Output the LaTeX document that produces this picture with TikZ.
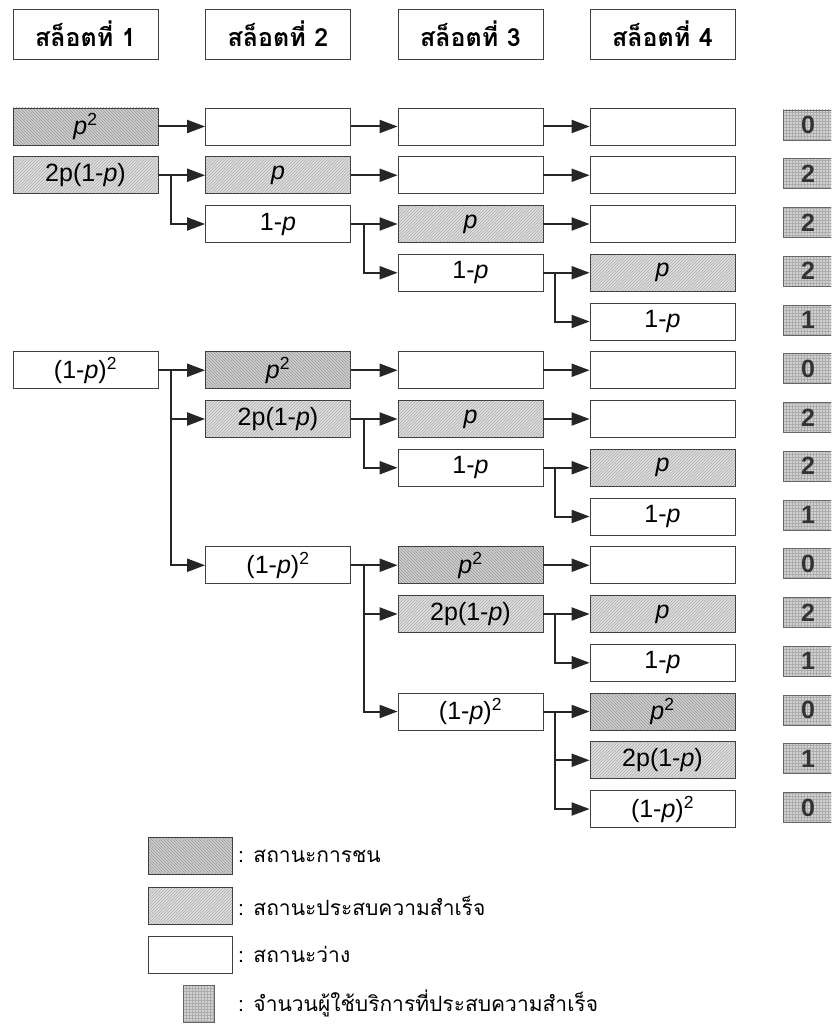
\documentclass[tikz,border=0pt]{standalone}
\usepackage{fontspec}
\setmainfont{Liberation Sans}
\newfontfamily\thai[Script=Thai]{Loma}
\usetikzlibrary{arrows.meta,patterns}
\begin{document}
\begin{tikzpicture}[x=1pt,y=-1pt,
  box/.style={rectangle,draw=black!75,line width=0.8pt,minimum width=145pt,minimum height=37pt,inner sep=0pt,font=\fontsize{25}{28}\selectfont},
  coll/.style={box,preaction={fill=gray!38},pattern=north west lines,pattern color=gray!80},
  succ/.style={box,preaction={fill=gray!25},pattern=north east lines,pattern color=gray!65},
  head/.style={rectangle,draw=black!75,line width=0.8pt,minimum width=145pt,minimum height=50pt,inner sep=0pt,font=\thai\bfseries\fontsize{25}{30}\selectfont},
  numbox/.style={rectangle,draw=black!60,line width=0.8pt,minimum width=50pt,minimum height=30pt,inner sep=0pt,preaction={fill=gray!35},pattern=grid,pattern color=gray!65,font=\bfseries\fontsize{25}{28}\selectfont,text=black!80},
  arr/.style={line width=2pt,draw=black!85,-{Triangle[length=18pt,width=13pt]}},
  legtxt/.style={anchor=west,inner sep=0pt,font=\thai\fontsize{21}{24}\selectfont}]
\useasboundingbox (0,0) rectangle (831,1024);
\clip (0,0) rectangle (831,1024);
\fill[white] (0,0) rectangle (831,1024);
% headers
\node[head] (h1) at (85.5,34) {สล็อตที่ 1};
\node[head] (h2) at (278,34) {สล็อตที่ 2};
\node[head] (h3) at (470.5,34) {สล็อตที่ 3};
\node[head] (h4) at (662.5,34) {สล็อตที่ 4};
% column 1
\node[coll] (a1r1) at (85.5,126.5) {\textit{p}\textsuperscript{2}};
\node[succ] (a1r2) at (85.5,175.25) {2p(1-\textit{p})};
\node[box]  (a1r6) at (85.5,370.25) {(1-\textit{p})\textsuperscript{2}};
% column 2
\node[box]  (a2r1) at (278,126.5) {};
\node[succ] (a2r2) at (278,175.25) {\textit{p}};
\node[box]  (a2r3) at (278,224) {1-\textit{p}};
\node[coll] (a2r6) at (278,370.25) {\textit{p}\textsuperscript{2}};
\node[succ] (a2r7) at (278,419) {2p(1-\textit{p})};
\node[box]  (a2r10) at (278,565.25) {(1-\textit{p})\textsuperscript{2}};
% column 3
\node[box]  (a3r1) at (470.5,126.5) {};
\node[box]  (a3r2) at (470.5,175.25) {};
\node[succ] (a3r3) at (470.5,224) {\textit{p}};
\node[box]  (a3r4) at (470.5,272.75) {1-\textit{p}};
\node[box]  (a3r6) at (470.5,370.25) {};
\node[succ] (a3r7) at (470.5,419) {\textit{p}};
\node[box]  (a3r8) at (470.5,467.75) {1-\textit{p}};
\node[coll] (a3r10) at (470.5,565.25) {\textit{p}\textsuperscript{2}};
\node[succ] (a3r11) at (470.5,614) {2p(1-\textit{p})};
\node[box]  (a3r13) at (470.5,711.5) {(1-\textit{p})\textsuperscript{2}};
% column 4
\node[box]  (a4r1) at (662.5,126.5) {};
\node[box]  (a4r2) at (662.5,175.25) {};
\node[box]  (a4r3) at (662.5,224) {};
\node[succ] (a4r4) at (662.5,272.75) {\textit{p}};
\node[box]  (a4r5) at (662.5,321.5) {1-\textit{p}};
\node[box]  (a4r6) at (662.5,370.25) {};
\node[box]  (a4r7) at (662.5,419) {};
\node[succ] (a4r8) at (662.5,467.75) {\textit{p}};
\node[box]  (a4r9) at (662.5,516.5) {1-\textit{p}};
\node[box]  (a4r10) at (662.5,565.25) {};
\node[succ] (a4r11) at (662.5,614) {\textit{p}};
\node[box]  (a4r12) at (662.5,662.75) {1-\textit{p}};
\node[coll] (a4r13) at (662.5,711.5) {\textit{p}\textsuperscript{2}};
\node[succ] (a4r14) at (662.5,760.25) {2p(1-\textit{p})};
\node[box]  (a4r15) at (662.5,809) {(1-\textit{p})\textsuperscript{2}};
% number boxes
\foreach \r/\y/\n in {1/126.5/0,2/175.25/2,3/224/2,4/272.75/2,5/321.5/1,6/370.25/0,7/419/2,8/467.75/2,9/516.5/1,10/565.25/0,11/614/2,12/662.75/1,13/711.5/0,14/760.25/1,15/809/0}
  \node[numbox] (n\r) at (808,\y-1.5) {\n};
% junction coordinates
\coordinate (j1r2) at ([xshift=13pt]a1r2.east);
\coordinate (j1r6) at ([xshift=13pt]a1r6.east);
\coordinate (j2r3) at ([xshift=13pt]a2r3.east);
\coordinate (j2r7) at ([xshift=13pt]a2r7.east);
\coordinate (j2r10) at ([xshift=13pt]a2r10.east);
\coordinate (j3r4) at ([xshift=12pt]a3r4.east);
\coordinate (j3r8) at ([xshift=12pt]a3r8.east);
\coordinate (j3r11) at ([xshift=12pt]a3r11.east);
\coordinate (j3r13) at ([xshift=12pt]a3r13.east);
% straight connectors
\draw[arr] (a1r1) -- (a2r1);
\draw[arr] (a2r1) -- (a3r1);
\draw[arr] (a3r1) -- (a4r1);
\draw[arr] (a2r2) -- (a3r2);
\draw[arr] (a3r2) -- (a4r2);
\draw[arr] (a3r3) -- (a4r3);
\draw[arr] (a2r6) -- (a3r6);
\draw[arr] (a3r6) -- (a4r6);
\draw[arr] (a3r7) -- (a4r7);
\draw[arr] (a3r10) -- (a4r10);
% branching connectors
\draw[arr] (a1r2) -- (a2r2);
\draw[arr] (a1r2.east) -- (j1r2) |- (a2r3.west);
\draw[arr] (a2r3) -- (a3r3);
\draw[arr] (a2r3.east) -- (j2r3) |- (a3r4.west);
\draw[arr] (a3r4) -- (a4r4);
\draw[arr] (a3r4.east) -- (j3r4) |- (a4r5.west);
\draw[arr] (a1r6) -- (a2r6);
\draw[arr] (a1r6.east) -- (j1r6) |- (a2r7.west);
\draw[arr] (j1r6) |- (a2r10.west);
\draw[arr] (a2r7) -- (a3r7);
\draw[arr] (a2r7.east) -- (j2r7) |- (a3r8.west);
\draw[arr] (a3r8) -- (a4r8);
\draw[arr] (a3r8.east) -- (j3r8) |- (a4r9.west);
\draw[arr] (a2r10) -- (a3r10);
\draw[arr] (a2r10.east) -- (j2r10) |- (a3r11.west);
\draw[arr] (j2r10) |- (a3r13.west);
\draw[arr] (a3r11) -- (a4r11);
\draw[arr] (a3r11.east) -- (j3r11) |- (a4r12.west);
\draw[arr] (a3r13) -- (a4r13);
\draw[arr] (a3r13.east) -- (j3r13) |- (a4r14.west);
\draw[arr] (j3r13) |- (a4r15.west);
% legend
\node[coll,minimum width=84pt] (l1) at (190,856) {};
\node[succ,minimum width=84pt] (l2) at (190,905.5) {};
\node[box,minimum width=84pt] (l3) at (190,954.5) {};
\node[numbox,minimum width=31pt,minimum height=37pt] (l4) at (198.5,1003.5) {};
\node[legtxt] (t1) at (238,856) {: สถานะการชน};
\node[legtxt] (t2) at (238,905.5) {: สถานะประสบความสำเร็จ};
\node[legtxt] (t3) at (238,954.5) {: สถานะว่าง};
\node[legtxt] (t4) at (238,1003.5) {: จำนวนผู้ใช้บริการที่ประสบความสำเร็จ};
\end{tikzpicture}
\end{document}
